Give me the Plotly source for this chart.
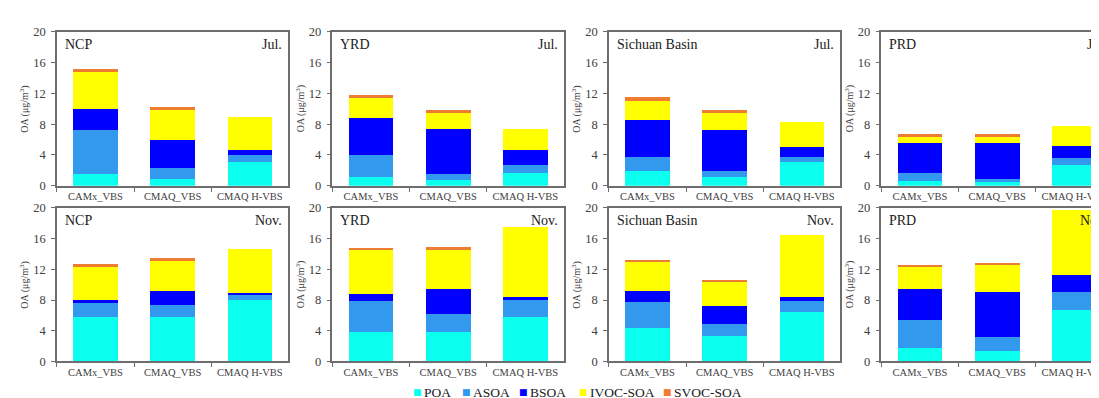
import plotly.graph_objects as go

W, H = 1099, 398

# ---------------- data ----------------
regions = ["NCP", "YRD", "Sichuan Basin", "PRD"]
months = ["Jul.", "Nov."]
models = ["CAMx_VBS", "CMAQ_VBS", "CMAQ H-VBS"]
species = ["POA", "ASOA", "BSOA", "IVOC-SOA", "SVOC-SOA"]
colors = ["#0AFFEF", "#3399EE", "#0000FF", "#FFFF00", "#EE7D31"]

# values per region (NCP, YRD, Sichuan Basin, PRD), each [CAMx_VBS, CMAQ_VBS, CMAQ H-VBS]
poa_jul = [[1.55, 0.84, 3.10], [1.18, 0.71, 1.68], [1.94, 1.18, 3.12], [0.59, 0.45, 2.68]]
asoa_jul = [[5.73, 1.42, 0.96], [2.77, 0.80, 0.97], [1.81, 0.76, 0.63], [1.08, 0.39, 0.96]]
bsoa_jul = [[2.76, 3.64, 0.63], [4.87, 5.88, 2.05], [4.80, 5.30, 1.26], [3.93, 4.76, 1.51]]
ivoc_jul = [[4.76, 3.93, 4.26], [2.65, 2.11, 2.65], [2.48, 2.19, 3.28], [0.84, 0.76, 2.59]]
svoc_jul = [[0.35, 0.37, 0.00], [0.33, 0.29, 0.00], [0.47, 0.42, 0.00], [0.25, 0.33, 0.00]]

poa_nov = [[5.79, 5.83, 8.05], [3.82, 3.78, 5.80], [4.33, 3.36, 6.43], [1.68, 1.31, 6.69]]
asoa_nov = [[1.88, 1.51, 0.67], [4.08, 2.40, 2.23], [3.40, 1.51, 1.39], [3.75, 1.85, 2.36]]
bsoa_nov = [[0.33, 1.84, 0.13], [0.92, 3.27, 0.42], [1.43, 2.36, 0.58], [3.96, 5.89, 2.19]]
ivoc_nov = [[4.28, 3.94, 5.82], [5.72, 5.09, 9.03], [3.78, 3.11, 8.11], [2.90, 3.45, 8.55]]
svoc_nov = [[0.42, 0.38, 0.00], [0.25, 0.33, 0.00], [0.34, 0.29, 0.00], [0.26, 0.38, 0.00]]

data = {
    "Jul.": [poa_jul, asoa_jul, bsoa_jul, ivoc_jul, svoc_jul],
    "Nov.": [poa_nov, asoa_nov, bsoa_nov, ivoc_nov, svoc_nov],
}

y_ticks = [0, 4, 8, 12, 16, 20]

# ---------------- layout geometry (pixels) ----------------
panel_left = [49, 325, 602, 875]
panel_w = 232
row_top = [17.5, 200]
row_bot = [177, 359]

FONT = "Liberation Serif"
AX_COLOR = "#6E6E6E"
TXT = "#404040"


def px(x):
    return x / W


def py(y):
    return 1 - y / H


fig = go.Figure()
layout = {}
annotations = []

idx = 0
for r, month in enumerate(months):
    for c, region in enumerate(regions):
        idx += 1
        xa = "x" if idx == 1 else f"x{idx}"
        ya = "y" if idx == 1 else f"y{idx}"
        for s, sp in enumerate(species):
            fig.add_trace(go.Bar(
                x=models, y=data[month][s][c], name=sp,
                marker=dict(color=colors[s], line=dict(width=0)),
                xaxis=xa, yaxis=ya, showlegend=False,
            ))
        left = panel_left[c]
        right_full = left + panel_w
        right_vis = min(right_full, W)
        x_end = -0.5 + 3 * (right_vis - left) / panel_w
        cut = right_full > W
        xkey = "xaxis" if idx == 1 else f"xaxis{idx}"
        ykey = "yaxis" if idx == 1 else f"yaxis{idx}"
        layout[xkey] = dict(
            domain=[px(left), px(right_vis)], anchor=ya, type="category",
            range=[-0.5, x_end], showline=True, linecolor=AX_COLOR, linewidth=1.5,
            mirror=True, ticks="outside", tickson="boundaries", ticklen=4,
            tickcolor=AX_COLOR, showgrid=False, zeroline=False,
            tickfont=dict(family=FONT, size=10.5, color=TXT),
        )
        layout[ykey] = dict(
            domain=[py(row_bot[r]), py(row_top[r])], anchor=xa,
            range=[0, 20], tickvals=y_ticks, showline=True, linecolor=AX_COLOR,
            linewidth=1.5, mirror=(not cut), ticks="outside", ticklen=4,
            tickcolor=AX_COLOR, showgrid=False, zeroline=False,
            ticklabelstandoff=3,
            tickfont=dict(family=FONT, size=12.5, color=TXT),
        )
        # panel labels
        annotations.append(dict(
            text=region, xref="paper", yref="paper", x=px(left + 6),
            y=py(row_top[r] + 13.5), xanchor="left", yanchor="middle",
            showarrow=False, font=dict(family=FONT, size=14, color="#202020")))
        annotations.append(dict(
            text=month, xref="paper", yref="paper", x=px(right_full - 4),
            y=py(row_top[r] + 13.5), xanchor="right", yanchor="middle",
            showarrow=False, font=dict(family=FONT, size=14, color="#202020")))
        # y-axis title
        annotations.append(dict(
            text="OA (μg/m<sup>3</sup>)", xref="paper", yref="paper",
            x=px(left - 32), y=py((row_top[r] + row_bot[r]) / 2),
            xanchor="center", yanchor="middle", textangle=-90, showarrow=False,
            font=dict(family=FONT, size=10, color=TXT)))

# manual legend
leg_sq_x = [410.5, 459.5, 516.5, 576.5, 660.5]
leg_y = 391
for s, sp in enumerate(species):
    annotations.append(dict(
        text="■", xref="paper", yref="paper", x=px(leg_sq_x[s]), y=py(leg_y),
        xanchor="center", yanchor="middle", showarrow=False,
        font=dict(family="DejaVu Sans", size=9, color=colors[s])))
    annotations.append(dict(
        text=sp, xref="paper", yref="paper", x=px(leg_sq_x[s] + 4.5), y=py(leg_y),
        xanchor="left", yanchor="middle", showarrow=False,
        font=dict(family=FONT, size=13.5, color="#202020")))

fig.update_layout(
    **layout,
    annotations=annotations,
    barmode="stack", bargap=0.42,
    width=W, height=H, margin=dict(l=0, r=0, t=0, b=0),
    paper_bgcolor="white", plot_bgcolor="white", showlegend=False,
)

fig.write_html("out.html")
